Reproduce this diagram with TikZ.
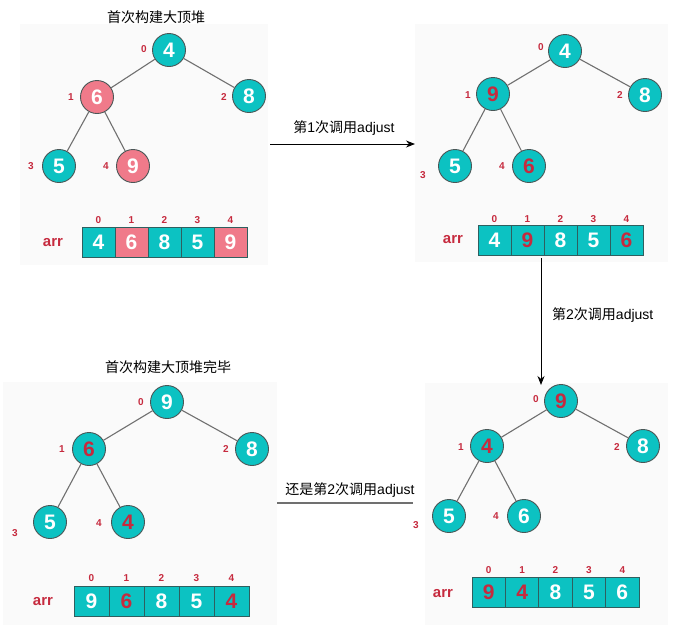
\documentclass[tikz,border=0pt]{standalone}
\usepackage{fontspec}
\setmainfont{Liberation Sans}
\newfontfamily\cjk{Noto Sans CJK SC}
\usetikzlibrary{arrows.meta}
\definecolor{tealc}{HTML}{0CC2C2}
\definecolor{pinkc}{HTML}{F07A8A}
\definecolor{redt}{HTML}{C62A3E}
\definecolor{ringc}{HTML}{4A5656}
\definecolor{edgec}{HTML}{707070}
\definecolor{celld}{HTML}{2F5F5F}
\definecolor{panelbg}{HTML}{FAFAFA}
\tikzset{
  hn/.style={circle, draw=ringc, line width=0.9pt, minimum size=33pt, inner sep=0pt,
    font=\fontsize{21}{21}\selectfont\bfseries, text=white, fill=tealc},
  hp/.style={hn, fill=pinkc},
  rd/.style={text=redt},
  idx/.style={font=\fontsize{10}{10}\selectfont\bfseries, text=redt, inner sep=0pt},
  cell/.style={draw=celld, line width=0.8pt, minimum height=30pt, inner sep=0pt,
    font=\fontsize{21}{21}\selectfont\bfseries, text=white, fill=tealc},
  cw/.style={},
  cp/.style={fill=pinkc},
  cr/.style={text=redt},
  arrl/.style={font=\fontsize{15}{15}\selectfont\bfseries, text=redt, inner sep=0pt},
  tedge/.style={draw=edgec, line width=1.1pt},
  captxt/.style={font=\fontsize{14}{14}\selectfont, inner sep=0pt},
  flow/.style={draw=black, line width=1pt, -{Stealth[length=9pt,width=7pt]}}
}
\begin{document}
\begin{tikzpicture}[x=1pt,y=-1pt]
\useasboundingbox (0,0) rectangle (674,633);
% faint panel backgrounds
\fill[panelbg] (20,24) rectangle (268,265);
\fill[panelbg] (415,24) rectangle (668,262);
\fill[panelbg] (3,382) rectangle (277,625);
\fill[panelbg] (425,383) rectangle (668,625);

% ---------- Panel 1 ----------
\node[captxt] (t1) at (156,17) {{\cjk 首次构建大顶堆}};
\node[hn] (p1n0) at (169,50) {4};
\node[hp] (p1n1) at (97,97) {6};
\node[hn] (p1n2) at (249,96) {8};
\node[hn] (p1n3) at (59,166) {5};
\node[hp] (p1n4) at (133,166) {9};
\draw[tedge] (p1n0) -- (p1n1);
\draw[tedge] (p1n0) -- (p1n2);
\draw[tedge] (p1n1) -- (p1n3);
\draw[tedge] (p1n1) -- (p1n4);
\node[idx] (p1l0) at (144,49) {0};
\node[idx] (p1l1) at (71,97) {1};
\node[idx] (p1l2) at (224,97) {2};
\node[idx] (p1l3) at (31,166) {3};
\node[idx] (p1l4) at (106,166) {4};
\node[arrl] (arr1) at (53,243) {arr};
\foreach \v/\s [count=\i from 0] in {4/cw,6/cp,8/cw,5/cw,9/cp}{
  \node[cell,\s,minimum width=33pt] (A1c\i) at (98.5+33*\i,242) {\v};
  \node[idx] (A1i\i) at (98.5+33*\i,220) {\i};
}

% ---------- Panel 2 ----------
\node[hn] (p2n0) at (565,51) {4};
\node[hn,rd] (p2n1) at (493,94) {9};
\node[hn] (p2n2) at (645,95) {8};
\node[hn] (p2n3) at (455,166) {5};
\node[hn,rd] (p2n4) at (529,166) {6};
\draw[tedge] (p2n0) -- (p2n1);
\draw[tedge] (p2n0) -- (p2n2);
\draw[tedge] (p2n1) -- (p2n3);
\draw[tedge] (p2n1) -- (p2n4);
\node[idx] (p2l0) at (541,47) {0};
\node[idx] (p2l1) at (468,95) {1};
\node[idx] (p2l2) at (620,95) {2};
\node[idx] (p2l3) at (423,175) {3};
\node[idx] (p2l4) at (502,166) {4};
\node[arrl] (arr2) at (453,240) {arr};
\foreach \v/\s [count=\i from 0] in {4/cw,9/cr,8/cw,5/cw,6/cr}{
  \node[cell,\s,minimum width=33pt] (A2c\i) at (494.5+33*\i,240) {\v};
  \node[idx] (A2i\i) at (494.5+33*\i,219) {\i};
}

% ---------- Panel 3 ----------
\node[captxt] (t3) at (168,367) {{\cjk 首次构建大顶堆完毕}};
\node[hn] (p3n0) at (167,402) {9};
\node[hn,rd] (p3n1) at (89,449) {6};
\node[hn] (p3n2) at (252,449) {8};
\node[hn] (p3n3) at (50,522) {5};
\node[hn,rd] (p3n4) at (128,522) {4};
\draw[tedge] (p3n0) -- (p3n1);
\draw[tedge] (p3n0) -- (p3n2);
\draw[tedge] (p3n1) -- (p3n3);
\draw[tedge] (p3n1) -- (p3n4);
\node[idx] (p3l0) at (141,402) {0};
\node[idx] (p3l1) at (62,449) {1};
\node[idx] (p3l2) at (226,449) {2};
\node[idx] (p3l3) at (15,533) {3};
\node[idx] (p3l4) at (99,523) {4};
\node[arrl] (arr3) at (43,602) {arr};
\foreach \v/\s [count=\i from 0] in {9/cw,6/cr,8/cw,5/cw,4/cr}{
  \node[cell,\s,minimum width=35pt] (A3c\i) at (91.5+35*\i,601) {\v};
  \node[idx] (A3i\i) at (91.5+35*\i,578) {\i};
}

% ---------- Panel 4 ----------
\node[hn,rd] (p4n0) at (561,401) {9};
\node[hn,rd] (p4n1) at (487,446) {4};
\node[hn] (p4n2) at (643,446) {8};
\node[hn] (p4n3) at (449,516) {5};
\node[hn] (p4n4) at (524,516) {6};
\draw[tedge] (p4n0) -- (p4n1);
\draw[tedge] (p4n0) -- (p4n2);
\draw[tedge] (p4n1) -- (p4n3);
\draw[tedge] (p4n1) -- (p4n4);
\node[idx] (p4l0) at (536,399) {0};
\node[idx] (p4l1) at (461,447) {1};
\node[idx] (p4l2) at (617,447) {2};
\node[idx] (p4l3) at (416,525) {3};
\node[idx] (p4l4) at (496,516) {4};
\node[arrl] (arr4) at (443,594) {arr};
\foreach \v/\s [count=\i from 0] in {9/cr,4/cr,8/cw,5/cw,6/cw}{
  \node[cell,\s,minimum width=33.4pt] (A4c\i) at (488.7+33.4*\i,592.5) {\v};
  \node[idx] (A4i\i) at (488.7+33.4*\i,570) {\i};
}

% ---------- connectors ----------
\coordinate (f1s) at (270,144);
\coordinate (f1e) at (415,144);
\draw[flow] (f1s) -- (f1e);
\node[captxt] (f1t) at (344,128) {{\cjk 第}1{\cjk 次调用}adjust};

\coordinate (f2s) at (541,258);
\coordinate (f2e) at (541,385);
\draw[flow] (f2s) -- (f2e);
\node[captxt, anchor=west] (f2t) at (552,315) {{\cjk 第}2{\cjk 次调用}adjust};

\coordinate (f3s) at (277,503);
\coordinate (f3e) at (413,503);
\draw[draw=edgec, line width=1.1pt] (f3s) -- (f3e);
\node[captxt] (f3t) at (350,490) {{\cjk 还是第}2{\cjk 次调用}adjust};
\end{tikzpicture}
\end{document}
